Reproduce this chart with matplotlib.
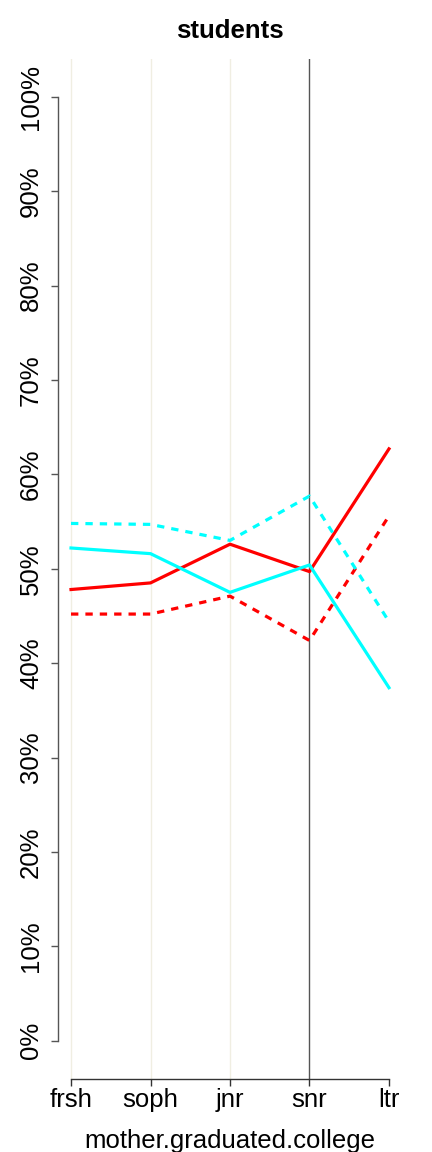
import matplotlib
matplotlib.use("Agg")
import matplotlib.pyplot as plt
import numpy as np

plt.rcParams['font.family'] = ['Liberation Sans', 'DejaVu Sans']

categories = ["frsh", "soph", "jnr", "snr", "ltr"]
red_solid = [47.8, 48.5, 52.6, 49.7, 62.7]
red_dashed = [45.2, 45.2, 47.1, 42.4, 55.6]
cyan_solid = [52.2, 51.6, 47.5, 50.4, 37.4]
cyan_dashed = [54.8, 54.7, 53.0, 57.7, 44.4]
yticks = list(range(0, 101, 10))
ytick_labels = [f"{v}%" for v in yticks]
title = "students"
xlabel = "mother.graduated.college"

W, H = 432, 1152
fig = plt.figure(figsize=(W / 100, H / 100), dpi=100)
left, right, top, bottom = 58.3, 401.7, 59.0, 1078.5
ax = fig.add_axes([left / W, 1 - bottom / H, (right - left) / W, (bottom - top) / H])

x = np.arange(1, len(categories) + 1)
ax.set_xlim(0.84, 5.16)
ax.set_ylim(-4, 104)

# vertical reference lines
for xi in x[:3]:
    ax.axvline(xi, color="#F0EEE2", lw=1.0, zorder=1)
ax.axvline(x[3], color="#555555", lw=1.0, zorder=1)

lw = 2.3
ax.plot(x, red_solid, color="#FF0000", lw=lw, zorder=3)
ax.plot(x, red_dashed, color="#FF0000", lw=lw, dashes=(2.3, 2.2), zorder=3)
ax.plot(x, cyan_solid, color="#00FFFF", lw=lw, zorder=3)
ax.plot(x, cyan_dashed, color="#00FFFF", lw=lw, dashes=(2.3, 2.2), zorder=3)

for s in ["top", "right"]:
    ax.spines[s].set_visible(False)
ax.spines["left"].set_bounds(0, 100)
ax.spines["bottom"].set_bounds(1, 5)
ax.spines["left"].set_color("#555555")
ax.spines["bottom"].set_color("#333333")
ax.spines["left"].set_linewidth(1.0)
ax.spines["bottom"].set_linewidth(1.0)

ax.set_yticks(yticks)
ax.set_yticklabels(ytick_labels, rotation=90, va="center", fontsize=18.5)
ax.set_xticks(x)
ax.set_xticklabels(categories, fontsize=18.5)
ax.tick_params(axis="y", length=5, width=1.0, color="#555555", pad=6)
ax.tick_params(axis="x", length=5, width=1.0, color="#333333", pad=2)

ax.set_xlabel(xlabel, fontsize=18.5, labelpad=12)
fig.text((left + right) / 2 / W, 1 - 31 / H, title, ha="center", va="center",
         fontsize=18.5, fontweight="bold")

fig.savefig("out.png", dpi=100)
